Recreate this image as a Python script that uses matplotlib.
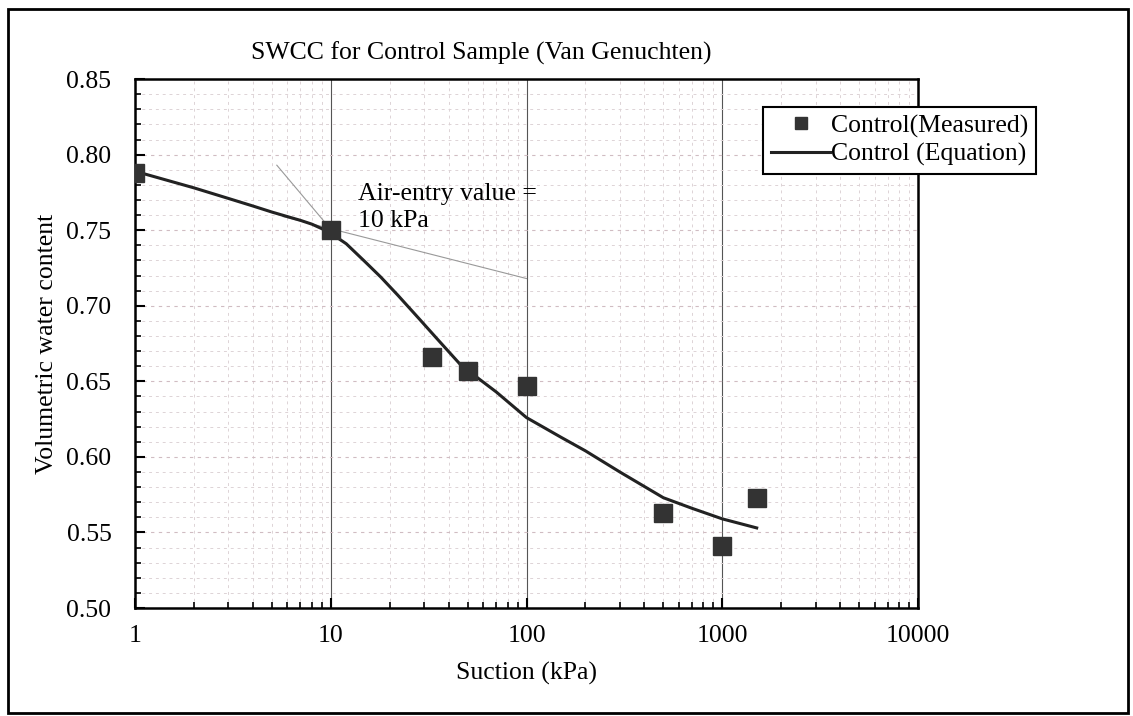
import matplotlib
matplotlib.use("Agg")
import matplotlib.pyplot as plt
import matplotlib.patches as patches
from matplotlib.ticker import LogLocator, MultipleLocator, FixedLocator

plt.rcParams['font.family'] = ['Liberation Serif', 'DejaVu Serif']

# measured points
suction_meas = [1, 10, 33, 50, 100, 500, 1000, 1500]
theta_meas = [0.788, 0.750, 0.666, 0.657, 0.647, 0.563, 0.541, 0.573]

# fitted curve
suction_eq = [1, 2, 3, 4, 5, 6, 7, 8, 9, 10, 12, 15, 18, 22, 28, 35, 46, 58, 70,
              100, 150, 200, 300, 500, 700, 1000, 1500]
theta_eq = [0.789, 0.778, 0.771, 0.766, 0.762, 0.759, 0.7565, 0.754, 0.751, 0.748, 0.741,
            0.729, 0.719, 0.707, 0.692, 0.678, 0.661, 0.651, 0.643,
            0.626, 0.613, 0.604, 0.590, 0.573, 0.566, 0.559, 0.553]

# tangent construction lines
tan1_x = [5.3, 11.2]
tan1_y = [0.793, 0.743]
tan2_x = [5.7, 100]
tan2_y = [0.759, 0.718]

yticks = [0.50, 0.55, 0.60, 0.65, 0.70, 0.75, 0.80, 0.85]
xticks = [1, 10, 100, 1000, 10000]
xticklabels = ['1', '10', '100', '1000', '10000']

fig = plt.figure(figsize=(11.33, 7.16), dpi=100)
ax = fig.add_axes([0.1192, 0.1508, 0.691, 0.7388])

# outer frame
fig.patches.append(patches.Rectangle((0.007, 0.004), 0.989, 0.983, transform=fig.transFigure,
                                     fill=False, edgecolor='black', linewidth=2))

ax.set_xscale('log')
ax.set_xlim(1, 10000)
ax.set_ylim(0.50, 0.85)

# grid
ax.xaxis.set_minor_locator(LogLocator(base=10, subs=range(2, 10)))
ax.yaxis.set_major_locator(FixedLocator(yticks))
ax.yaxis.set_minor_locator(MultipleLocator(0.01))
ax.grid(which='minor', color='#ddd3d6', linestyle=(0, (3, 4)), linewidth=0.7)
ax.grid(which='major', axis='y', color='#d0bcc2', linestyle=(0, (3, 4)), linewidth=0.8)
ax.grid(which='major', axis='x', color='#555555', linestyle='-', linewidth=0.8)
ax.set_axisbelow(True)

ax.plot(tan1_x, tan1_y, color='#999999', linewidth=0.8, zorder=2)
ax.plot(tan2_x, tan2_y, color='#999999', linewidth=0.8, zorder=2)

ax.plot(suction_meas, theta_meas, linestyle='none', marker='s', markersize=13,
        color='#333333', label='Control(Measured)', zorder=4)
ax.plot(suction_eq, theta_eq, color='#222222', linewidth=2.2,
        label='Control (Equation)', zorder=3)

ax.set_xticks(xticks)
ax.set_xticklabels(xticklabels)
ax.set_yticks(yticks)
ax.set_yticklabels(['%.2f' % v for v in yticks])
ax.tick_params(which='both', direction='in', top=False, right=False)
ax.tick_params(which='major', length=7, width=1.5, labelsize=18.5)
ax.tick_params(axis='x', which='major', pad=12)
ax.tick_params(axis='y', which='major', pad=17)
ax.tick_params(which='minor', length=4, width=1.2)
for s in ax.spines.values():
    s.set_linewidth(1.8)

ax.set_xlabel('Suction (kPa)', fontsize=18.5, labelpad=11)
ax.set_ylabel('Volumetric water content', fontsize=18.5, labelpad=6)
ax.set_title('SWCC for Control Sample (Van Genuchten)', fontsize=18.5, pad=14, x=0.442)

ax.text(13.8, 0.781, 'Air-entry value =\n10 kPa', fontsize=18.5, va='top', ha='left',
        linespacing=1.28)

leg = ax.legend(loc='upper left', bbox_to_anchor=(0.786, 0.972), fontsize=18.5,
                frameon=True, fancybox=False, edgecolor='black', framealpha=1,
                handlelength=2.3, handletextpad=0.05, borderpad=0.3, labelspacing=0.2,
                markerscale=0.65)
leg.get_frame().set_linewidth(1.5)

fig.savefig('out.png', dpi=100)
